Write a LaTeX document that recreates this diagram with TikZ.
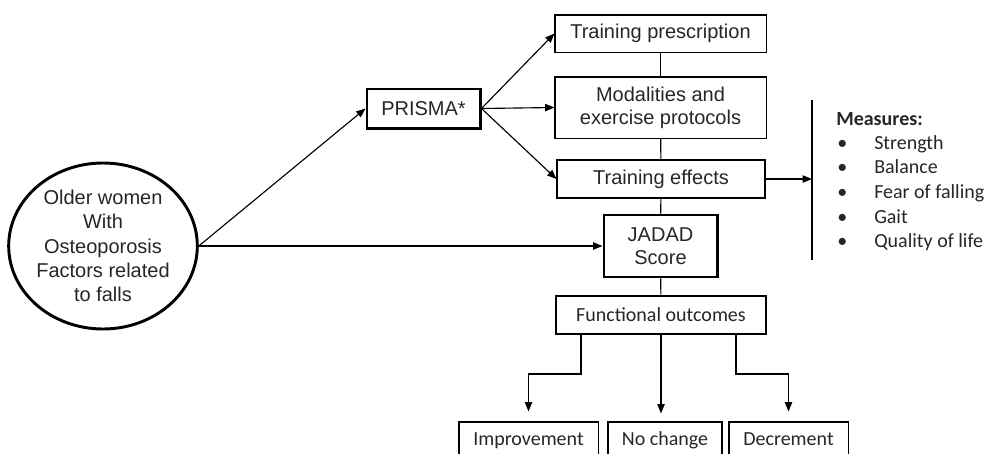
\documentclass[tikz,border=0pt]{standalone}
\usepackage{fontspec}
\setmainfont{Liberation Sans}
\newfontfamily\calib{Carlito}
\usetikzlibrary{arrows.meta,shapes.geometric}

\tikzset{
  box/.style={draw, rectangle, inner sep=0pt, align=center, text=black!85,
    font=\fontsize{15}{17}\selectfont, line width=0.8pt},
  thickbox/.style={box, line width=2.2pt},
  cbox/.style={box, font=\calib\fontsize{15}{17}\selectfont},
  outbox/.style={cbox, minimum height=30pt, text height=0.75em, text depth=0.25em},
  item/.style={inner sep=0pt, anchor=base west, text=black!85,
    font=\calib\fontsize{15}{17}\selectfont},
  arr/.style={-{Triangle[length=7pt,width=5.5pt]}, line width=0.85pt},
  link/.style={line width=0.85pt}
}

\begin{document}
\begin{tikzpicture}[x=0.75pt, y=-0.75pt]
  \useasboundingbox (0,0) rectangle (1001,454);
  \clip (0,0) rectangle (1001,454);

  % main nodes
  \node[draw, ellipse, line width=2.2pt, inner sep=0pt, align=center,
        minimum width=135.75pt, minimum height=124.5pt, text=black!85,
        font=\fontsize{15}{18.2}\selectfont] (women) at (103,246)
        {Older women\\With\\Osteoporosis\\Factors related\\to falls};
  \node[thickbox, minimum width=84.8pt, minimum height=29.3pt] (prisma) at (423.5,108.5) {PRISMA*};
  \node[box, minimum width=158.3pt, minimum height=27.8pt] (presc) at (660.5,33.5) {Training prescription};
  \node[box, minimum width=158.3pt, minimum height=45.8pt] (modal) at (660.5,107.5) {Modalities and\\exercise protocols};
  \node[box, minimum width=156pt, minimum height=28.5pt] (effects) at (661,179) {Training effects};
  \node[thickbox, minimum width=84.8pt, minimum height=46.5pt] (jadad) at (660.5,246) {JADAD\\Score};
  \node[thickbox, cbox, line width=2.2pt, minimum width=157.5pt, minimum height=28.5pt] (functional) at (661,315) {Functional outcomes};

  % outcomes
  \node[outbox, minimum width=104.3pt] (improve) at (528.5,442) {Improvement};
  \node[outbox, minimum width=85.5pt] (nochange) at (665,442) {No change};
  \node[outbox, minimum width=89.3pt] (decrement) at (788.5,442) {Decrement};

  % measures
  \coordinate (bartop) at (812,100);
  \coordinate (barbot) at (812,260);
  \coordinate (barmid) at (812,179);
  \node[item, font=\calib\bfseries\fontsize{15}{17}\selectfont] (measures) at (836,125) {Measures:};
  \node[item] (dot1) at (837,149) {\textbullet};
  \node[item] (dot2) at (837,173) {\textbullet};
  \node[item] (dot3) at (837,198) {\textbullet};
  \node[item] (dot4) at (837,223) {\textbullet};
  \node[item] (dot5) at (837,247) {\textbullet};
  \node[item] (strength) at (874,149) {Strength};
  \node[item] (balance) at (874,173) {Balance};
  \node[item] (fear) at (874,198) {Fear of falling};
  \node[item] (gait) at (874,223) {Gait};
  \node[item] (quality) at (874,247) {Quality of life};

  \coordinate (fleft) at (581,334);
  \coordinate (fright) at (736,334);

  \begin{scope}[arr]
    \draw (women.east) -- (prisma.west);
    \draw (women.east) -- (jadad.west);
    \draw (prisma.east) -- (presc.west);
    \draw (prisma.east) -- (modal.west);
    \draw (prisma.east) -- (effects.west);
    \draw (effects.east) -- (barmid);
    \draw (fleft) -- ++(0,40) -| ([yshift=7.5pt]improve.north);
    \draw (functional.south) -- ++(0,78);
    \draw (fright) -- ++(0,40) -| ([yshift=7.5pt]decrement.north);
  \end{scope}
  \begin{scope}[link]
    \draw (presc) -- (modal);
    \draw (modal) -- (effects);
    \draw (effects) -- (jadad);
    \draw (jadad) -- (functional);
  \end{scope}
  \draw[line width=2.2pt] (bartop) -- (barbot);
\end{tikzpicture}
\end{document}
